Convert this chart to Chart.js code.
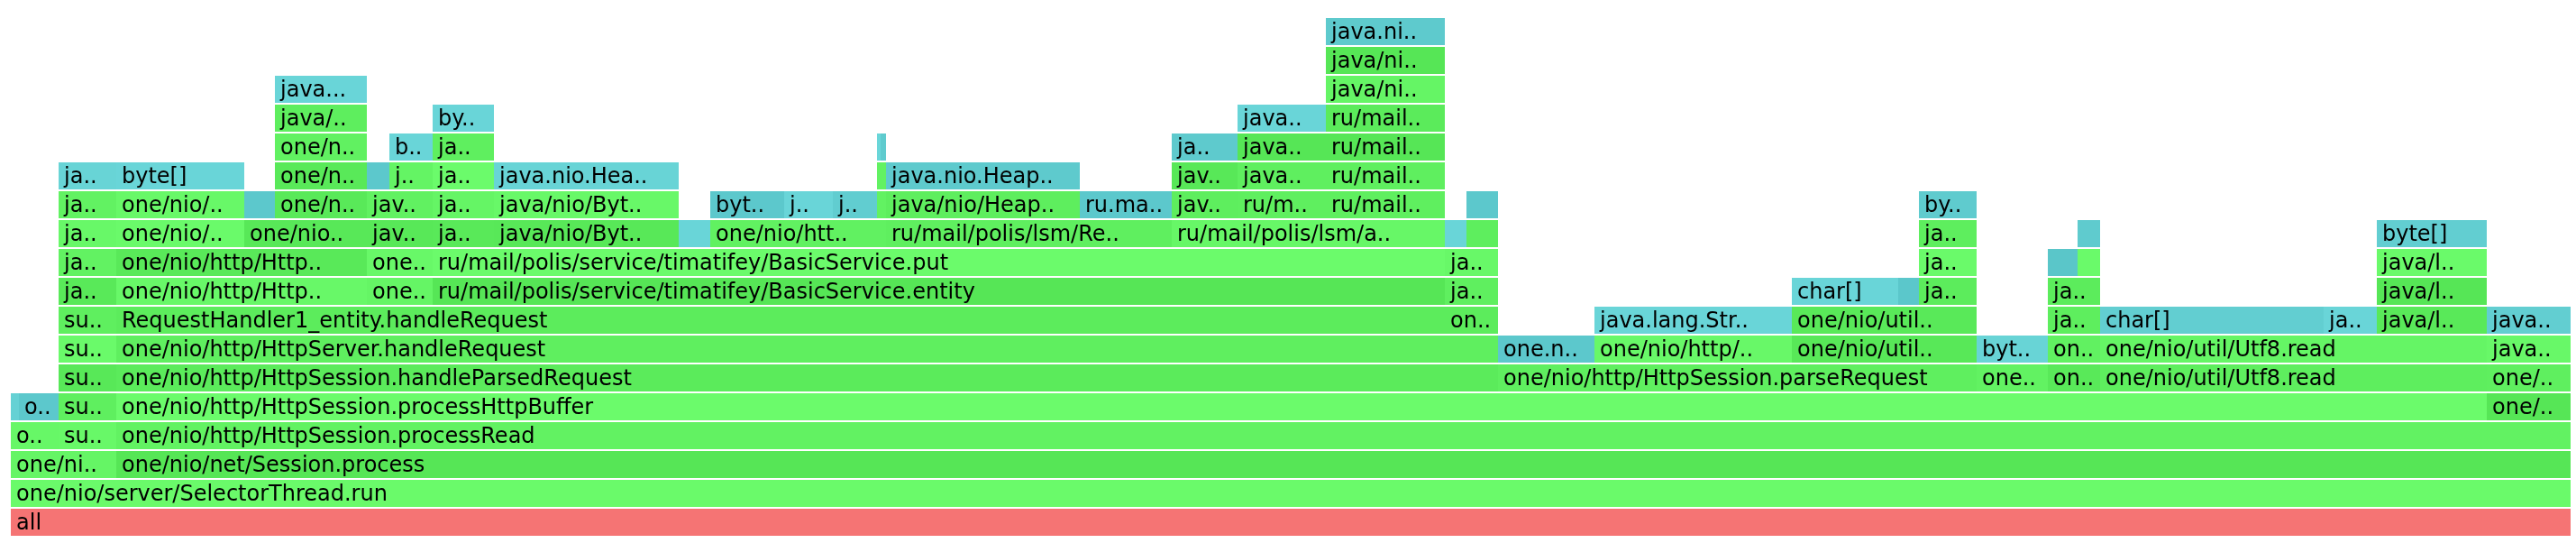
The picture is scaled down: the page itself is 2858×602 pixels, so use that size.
<!DOCTYPE html>
<html>
<head>
<meta charset="utf-8">
<title>Flame graph</title>
<script src="https://cdn.jsdelivr.net/npm/chart.js@4/dist/chart.umd.min.js"></script>
<style>
  html, body { margin: 0; padding: 0; background: #fff; }
  #wrap { width: 2858px; height: 602px; position: relative; }
</style>
</head>
<body>
<div id="wrap"><canvas id="flame"></canvas></div>
<script>
// -------- DATA --------
// stack depth categories, top of the picture first
const depths = ['17','16','15','14','13','12','11','10','9','8','7','6','5','4','3','2','1','0'];
const totalSamples = 2840;

// one frame: [label as shown, start sample, end sample, kind]
const row0 = [['all', 0, 2840, 'root']];
const row1 = [['one/nio/server/SelectorThread.run', 0, 2840, 'java']];
const row2 = [
    ['one/ni..', 0, 117, 'java'],
    ['one/nio/net/Session.process', 117, 2840, 'java']
];
const row3 = [
    ['o..', 0, 53, 'java'],
    ['su..', 53, 117, 'java'],
    ['one/nio/http/HttpSession.processRead', 117, 2840, 'java']
];
const row4 = [
    ['', 0, 9, 'type'],
    ['o..', 9, 53, 'type'],
    ['su..', 53, 117, 'java'],
    ['one/nio/http/HttpSession.processHttpBuffer', 117, 2747, 'java'],
    ['one/..', 2747, 2840, 'java']
];
const row5 = [
    ['su..', 53, 117, 'java'],
    ['one/nio/http/HttpSession.handleParsedRequest', 117, 1650, 'java'],
    ['one/nio/http/HttpSession.parseRequest', 1650, 2181, 'java'],
    ['one..', 2181, 2260, 'java'],
    ['on..', 2260, 2318, 'java'],
    ['one/nio/util/Utf8.read', 2318, 2747, 'java'],
    ['one/..', 2747, 2840, 'java']
];
const row6 = [
    ['su..', 53, 117, 'java'],
    ['one/nio/http/HttpServer.handleRequest', 117, 1650, 'java'],
    ['one.n..', 1650, 1757, 'type'],
    ['one/nio/http/..', 1757, 1976, 'java'],
    ['one/nio/util..', 1976, 2181, 'java'],
    ['byt..', 2181, 2260, 'type'],
    ['on..', 2260, 2318, 'java'],
    ['one/nio/util/Utf8.read', 2318, 2747, 'java'],
    ['java..', 2747, 2840, 'java']
];
const row7 = [
    ['su..', 53, 117, 'java'],
    ['RequestHandler1_entity.handleRequest', 117, 1591, 'java'],
    ['on..', 1591, 1650, 'java'],
    ['java.lang.Str..', 1757, 1976, 'type'],
    ['one/nio/util..', 1976, 2181, 'java'],
    ['ja..', 2260, 2318, 'java'],
    ['char[]', 2318, 2566, 'type'],
    ['ja..', 2566, 2625, 'type'],
    ['java/l..', 2625, 2747, 'java'],
    ['java..', 2747, 2840, 'type']
];
const row8 = [
    ['ja..', 53, 117, 'java'],
    ['one/nio/http/Http..', 117, 395, 'java'],
    ['one..', 395, 468, 'java'],
    ['ru/mail/polis/service/timatifey/BasicService.entity', 468, 1591, 'java'],
    ['ja..', 1591, 1650, 'java'],
    ['char[]', 1976, 2094, 'type'],
    ['', 2094, 2117, 'type'],
    ['ja..', 2117, 2181, 'java'],
    ['ja..', 2260, 2318, 'java'],
    ['java/l..', 2625, 2747, 'java']
];
const row9 = [
    ['ja..', 53, 117, 'java'],
    ['one/nio/http/Http..', 117, 395, 'java'],
    ['one..', 395, 468, 'java'],
    ['ru/mail/polis/service/timatifey/BasicService.put', 468, 1591, 'java'],
    ['ja..', 1591, 1650, 'java'],
    ['ja..', 2117, 2181, 'java'],
    ['', 2260, 2293, 'type'],
    ['', 2293, 2318, 'java'],
    ['java/l..', 2625, 2747, 'java']
];
const row10 = [
    ['ja..', 53, 117, 'java'],
    ['one/nio/..', 117, 259, 'java'],
    ['one/nio..', 259, 395, 'java'],
    ['jav..', 395, 468, 'java'],
    ['ja..', 468, 536, 'java'],
    ['java/nio/Byt..', 536, 741, 'java'],
    ['', 741, 776, 'type'],
    ['one/nio/htt..', 776, 971, 'java'],
    ['ru/mail/polis/lsm/Re..', 971, 1288, 'java'],
    ['ru/mail/polis/lsm/a..', 1288, 1591, 'java'],
    ['', 1591, 1615, 'type'],
    ['', 1615, 1650, 'java'],
    ['ja..', 2117, 2181, 'java'],
    ['', 2293, 2318, 'type'],
    ['byte[]', 2625, 2747, 'type']
];
const row11 = [
    ['ja..', 53, 117, 'java'],
    ['one/nio/..', 117, 259, 'java'],
    ['', 259, 293, 'type'],
    ['one/n..', 293, 395, 'java'],
    ['jav..', 395, 468, 'java'],
    ['ja..', 468, 536, 'java'],
    ['java/nio/Byt..', 536, 741, 'java'],
    ['byt..', 776, 858, 'type'],
    ['j..', 858, 912, 'type'],
    ['j..', 912, 961, 'type'],
    ['', 961, 971, 'java'],
    ['java/nio/Heap..', 971, 1186, 'java'],
    ['ru.ma..', 1186, 1288, 'type'],
    ['jav..', 1288, 1361, 'java'],
    ['ru/m..', 1361, 1459, 'java'],
    ['ru/mail..', 1459, 1591, 'java'],
    ['', 1615, 1650, 'type'],
    ['by..', 2117, 2181, 'type']
];
const row12 = [
    ['ja..', 53, 117, 'type'],
    ['byte[]', 117, 259, 'type'],
    ['one/n..', 293, 395, 'java'],
    ['', 395, 420, 'type'],
    ['j..', 420, 468, 'java'],
    ['ja..', 468, 536, 'java'],
    ['java.nio.Hea..', 536, 741, 'type'],
    ['', 961, 971, 'java'],
    ['java.nio.Heap..', 971, 1186, 'type'],
    ['jav..', 1288, 1361, 'java'],
    ['java..', 1361, 1459, 'java'],
    ['ru/mail..', 1459, 1591, 'java']
];
const row13 = [
    ['one/n..', 293, 395, 'java'],
    ['b..', 420, 468, 'type'],
    ['ja..', 468, 536, 'java'],
    ['', 961, 965, 'type'],
    ['', 965, 971, 'type'],
    ['ja..', 1288, 1361, 'type'],
    ['java..', 1361, 1459, 'java'],
    ['ru/mail..', 1459, 1591, 'java']
];
const row14 = [
    ['java/..', 293, 395, 'java'],
    ['by..', 468, 536, 'type'],
    ['java..', 1361, 1459, 'type'],
    ['ru/mail..', 1459, 1591, 'java']
];
const row15 = [
    ['java...', 293, 395, 'type'],
    ['java/ni..', 1459, 1591, 'java']
];
const row16 = [['java/ni..', 1459, 1591, 'java']];
const row17 = [['java.ni..', 1459, 1591, 'type']];

const rows = [row0, row1, row2, row3, row4, row5, row6, row7, row8,
              row9, row10, row11, row12, row13, row14, row15, row16, row17];

// -------- STYLE --------
// colour variation of each frame (0 = darkest, 1 = lightest), same order as the rows
const shades = [
    [0.5],
    [0.85],
    [0.7, 0.2],
    [0.75, 0.8, 0.6],
    [0.6, 0.3, 0.5, 0.9, 0.2],
    [0.25, 0.35, 0.5, 0.6, 0.3, 0.45, 0.5],
    [0.85, 0.5, 0.3, 0.8, 0.25, 0.7, 0.55, 0.7, 0.8],
    [0.5, 0.4, 0.4, 0.75, 0.3, 0.45, 0.5, 0.75, 0.3, 0.5],
    [0.3, 0.8, 0.7, 0.2, 0.5, 0.75, 0.25, 0.4, 0.4, 0.2],
    [0.6, 0.3, 0.8, 0.9, 0.8, 0.85, 0.2, 0.85, 0.85],
    [0.8, 0.85, 0.25, 0.25, 0.3, 0.25, 0.75, 0.55, 0.5, 0.75, 0.75, 0.45, 0.45, 0.4, 0.5],
    [0.6, 0.8, 0.3, 0.3, 0.55, 0.7, 0.8, 0.3, 0.75, 0.45, 0.6, 0.45, 0.3, 0.45, 0.5, 0.5, 0.3, 0.4],
    [0.7, 0.75, 0.3, 0.3, 0.65, 0.9, 0.7, 0.6, 0.35, 0.25, 0.5, 0.5],
    [0.55, 0.75, 0.5, 0.8, 0.4, 0.35, 0.2, 0.2],
    [0.45, 0.75, 0.75, 0.35],
    [0.75, 0.7],
    [0.2],
    [0.35]
];

function frameColor(kind, v){
    let c;
    if(kind === 'root') c = [245, 116, 116];
    else if(kind === 'type') c = [84 + 28*v, 192 + 28*v, 196 + 26*v];
    else c = [80 + 30*v, 224 + 30*v, 80 + 30*v];
    return `rgb(${c.map(Math.round).join(',')})`;
}

// -------- BUILD --------
let points = [], names = [], colors = [];
rows.forEach((r, d)=>{
    r.forEach((f, i)=>{
        points.push({x: [f[1], f[2]], y: String(d)});
        names.push(f[0]);
        colors.push(frameColor(f[3], shades[d][i]));
    });
});

const frameText = {
    id: 'frameText',
    afterDatasetsDraw(chart){
        const ctx = chart.ctx;
        const meta = chart.getDatasetMeta(0);
        ctx.save();
        ctx.font = '24px "DejaVu Sans", Verdana, sans-serif';
        ctx.fillStyle = '#000';
        ctx.textBaseline = 'alphabetic';
        meta.data.forEach((bar, i)=>{
            if(!names[i]) return;
            const left = Math.min(bar.x, bar.base);
            const w = Math.abs(bar.x - bar.base);
            const top = bar.y - bar.height/2;
            ctx.save();
            ctx.beginPath();
            ctx.rect(left, top, w, bar.height);
            ctx.clip();
            ctx.fillText(names[i], left + 6, top + 23);
            ctx.restore();
        });
        ctx.restore();
    }
};

new Chart(document.getElementById('flame'), {
    type: 'bar',
    data: {
        labels: depths,
        datasets: [{
            data: points,
            backgroundColor: colors,
            borderWidth: 0,
            barPercentage: 1,
            categoryPercentage: 30/32
        }]
    },
    options: {
        indexAxis: 'y',
        responsive: true,
        maintainAspectRatio: false,
        animation: false,
        devicePixelRatio: 1,
        events: [],
        layout: { padding: { left: 12, right: 6, top: 19, bottom: 7 } },
        scales: {
            x: { type: 'linear', min: 0, max: totalSamples, display: false },
            y: { type: 'category', display: false }
        },
        plugins: {
            legend: { display: false },
            tooltip: { enabled: false }
        }
    },
    plugins: [frameText]
});
</script>
</body>
</html>
